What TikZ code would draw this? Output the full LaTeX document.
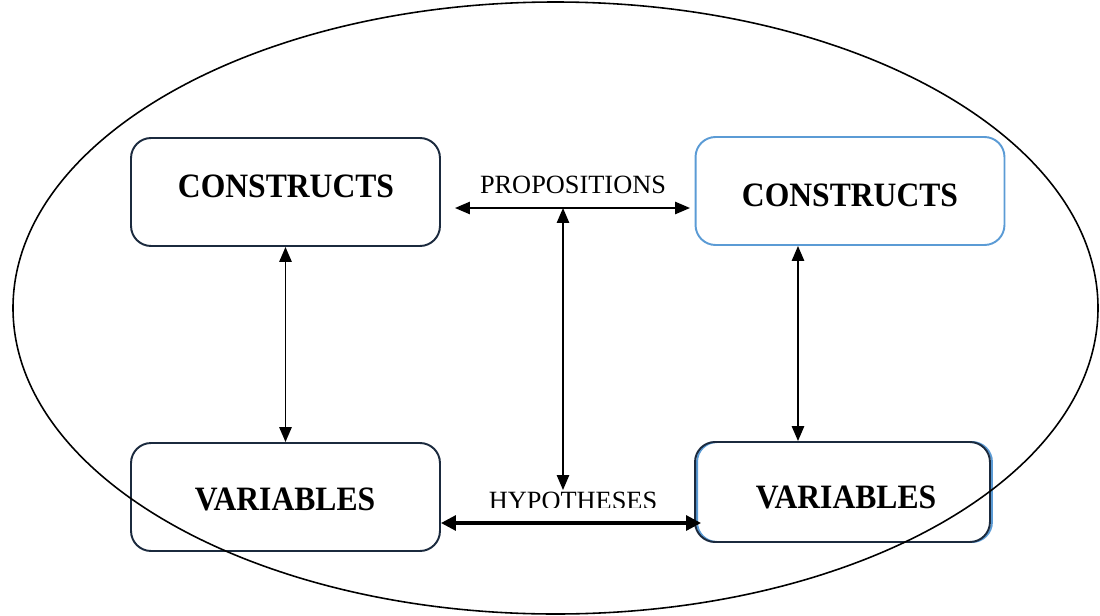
\documentclass[tikz,border=0pt]{standalone}
\usepackage{fontspec}
\setmainfont{Liberation Serif}
\usetikzlibrary{arrows.meta,calc}
\definecolor{boxnavy}{HTML}{1B2A3E}
\definecolor{boxblue}{HTML}{5B9BD5}
\begin{document}
\begin{tikzpicture}[x=0.02cm,y=-0.02cm,
  conbox/.style={draw=boxnavy,line width=1.1pt,rounded corners=0.4cm,
    minimum width=6.18cm,minimum height=2.16cm,inner sep=0pt},
  boxtext/.style={font=\fontsize{18}{20}\selectfont\bfseries,yscale=1.08},
  link/.style={line width=1pt,{Triangle[length=8.5pt,width=7pt]}-{Triangle[length=8.5pt,width=7pt]}},
  boldlink/.style={line width=1.8pt,{Triangle[length=8.5pt,width=8.5pt]}-{Triangle[length=8.5pt,width=8.5pt]}},
  lbl/.style={font=\fontsize{15}{17}\selectfont,inner sep=0pt}]
\useasboundingbox (0,0) rectangle (1100,616);

% four boxes
\node[conbox] (c1) at (285.5,192) {};
\node[boxtext] (c1t) at (286,186) {CONSTRUCTS};
\node[conbox,draw=boxblue] (c2) at (850,191) {};
\node[boxtext] (c2t) at (850,195) {CONSTRUCTS};
\node[conbox] (v1) at (285.5,497) {};
\node[boxtext] (v1t) at (285,499) {VARIABLES};
\node[conbox,draw=boxblue,minimum width=5.9cm,minimum height=2.0cm] (v2s) at (844.5,492) {};
\node[conbox,minimum width=5.9cm,minimum height=2.0cm] (v2) at (842.5,492) {};
\node[boxtext] (v2t) at (846,497) {VARIABLES};

% labels
\node[lbl] (prop) at (573,185) {PROPOSITIONS};
\begin{scope}
  \clip (470,470) rectangle (680,507);
  \node[lbl] (hyp) at (573,501) {HYPOTHESES};
\end{scope}

% connector end points
\coordinate (pl) at (455,208);
\coordinate (pr) at (690,208);
\coordinate (pm) at (563,208);
\coordinate (hm) at (563,490);
\coordinate (bl) at (441,523);
\coordinate (br) at (701,523);

% connectors
\draw[link] (c1.south) -- (v1.north);
\draw[link] (c2.south -| 798,0) -- (v2.north -| 798,0);
\draw[link] (pl) -- (pr);
\draw[link] (pm) -- (hm);
\draw[boldlink] (bl) -- (br);

% enclosing ellipse
\draw[line width=0.9pt] (555.5,308) ellipse [x radius=542.5, y radius=306];
\end{tikzpicture}
\end{document}
